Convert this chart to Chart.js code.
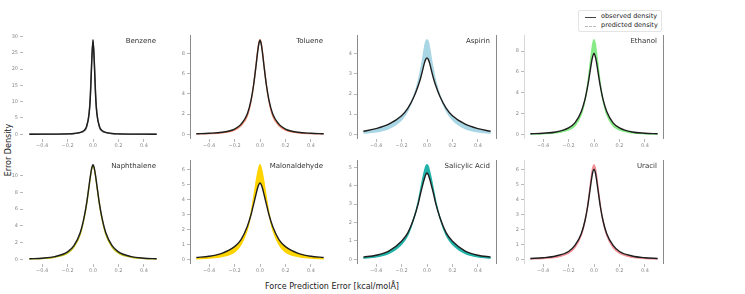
<!DOCTYPE html>
<html>
<head>
<meta charset="utf-8">
<script src="https://cdn.jsdelivr.net/npm/chart.js@4.4.1/dist/chart.umd.min.js"></script>
<style>
  body { margin: 0; background: #fff; font-family: "DejaVu Sans", sans-serif; }
  #wrap { position: relative; width: 745px; height: 294px; overflow: hidden; }
  canvas { position: absolute; }
  .ptitle { position: absolute; font-size: 7px; color: #333; white-space: nowrap; transform: translate(-100%, -50%); }
  .legend { position: absolute; left: 578px; top: 10px; width: 84px; height: 22px; border: 1px solid #e4e4e4; border-radius: 2px; background: #fff; box-sizing: border-box; font-size: 6.5px; color: #222; }
  .legend div { position: absolute; left: 22px; white-space: nowrap; }
  .legend span { position: absolute; left: 6px; width: 11px; }
</style>
</head>
<body>
<div id="wrap">
  <div class="legend">
    <span style="top:6px;border-top:1px solid #444"></span><div style="top:1px">observed density</div>
    <span style="top:15px;border-top:1px dashed #bbb"></span><div style="top:10px">predicted density</div>
  </div>
  <div style="position:absolute;left:8px;top:150px;transform:translate(-50%,-50%) rotate(-90deg);font-size:8px;color:#222;white-space:nowrap">Error Density</div>
  <div style="position:absolute;left:332px;top:286px;transform:translate(-50%,-50%);font-size:8px;color:#222;white-space:nowrap">Force Prediction Error [kcal/molÅ]</div>
</div>
<script>
// x grid of the density curves
const xs = [-0.5, -0.4, -0.3, -0.2, -0.15, -0.1, -0.07, -0.05, -0.03, -0.02, -0.01, 0, 0.01, 0.02, 0.03, 0.05, 0.07, 0.1, 0.15, 0.2, 0.3, 0.4, 0.5];
const xTicks = [-0.4, -0.2, 0.0, 0.2, 0.4];

const molecules = ["Benzene", "Toluene", "Aspirin", "Ethanol", "Naphthalene", "Malonaldehyde", "Salicylic Acid", "Uracil"];

const benzeneObs = [0.02, 0.03, 0.05, 0.12, 0.25, 0.6, 1.2, 2.5, 6.5, 12, 22, 29, 22, 12, 6.5, 2.5, 1.2, 0.6, 0.25, 0.12, 0.05, 0.03, 0.02];
const benzenePred = [0.01, 0.02, 0.04, 0.1, 0.2, 0.5, 1.0, 2.2, 6.8, 13, 23, 28.6, 23, 13, 6.8, 2.2, 1.0, 0.5, 0.2, 0.1, 0.04, 0.02, 0.01];
const tolueneObs = [0.05, 0.1, 0.2, 0.52, 0.98, 2.0, 3.4, 4.9, 6.9, 8.0, 8.9, 9.3, 8.9, 8.0, 6.9, 4.9, 3.4, 2.0, 0.98, 0.52, 0.2, 0.1, 0.05];
const toluenePred = [0.03, 0.06, 0.14, 0.42, 0.85, 1.8, 3.3, 4.9, 7.0, 8.1, 9.0, 9.35, 9.0, 8.1, 7.0, 4.9, 3.3, 1.8, 0.85, 0.42, 0.14, 0.06, 0.03];
const aspirinObs = [0.15, 0.28, 0.5, 0.92, 1.3, 1.9, 2.4, 2.8, 3.3, 3.55, 3.72, 3.8, 3.72, 3.55, 3.3, 2.8, 2.4, 1.9, 1.3, 0.92, 0.5, 0.28, 0.15];
const aspirinPred = [0.06, 0.12, 0.28, 0.72, 1.18, 1.95, 2.6, 3.2, 3.9, 4.3, 4.6, 4.7, 4.6, 4.3, 3.9, 3.2, 2.6, 1.95, 1.18, 0.72, 0.28, 0.12, 0.06];
const ethanolObs = [0.05, 0.1, 0.22, 0.62, 1.1, 2.2, 3.4, 4.6, 6.1, 6.9, 7.5, 7.8, 7.5, 6.9, 6.1, 4.6, 3.4, 2.2, 1.1, 0.62, 0.22, 0.1, 0.05];
const ethanolPred = [0.02, 0.05, 0.13, 0.42, 0.82, 1.9, 3.3, 4.8, 6.8, 7.8, 8.7, 9.1, 8.7, 7.8, 6.8, 4.8, 3.3, 1.9, 0.82, 0.42, 0.13, 0.05, 0.02];
const naphthaleneObs = [0.06, 0.13, 0.32, 0.88, 1.62, 3.2, 5.0, 6.7, 8.9, 10.0, 10.9, 11.3, 10.9, 10.0, 8.9, 6.7, 5.0, 3.2, 1.62, 0.88, 0.32, 0.13, 0.06];
const naphthalenePred = [0.04, 0.09, 0.24, 0.74, 1.45, 3.0, 4.9, 6.6, 8.8, 9.9, 10.8, 11.1, 10.8, 9.9, 8.8, 6.6, 4.9, 3.0, 1.45, 0.74, 0.24, 0.09, 0.04];
const malonaldehydeObs = [0.12, 0.2, 0.4, 0.85, 1.3, 2.2, 3.0, 3.7, 4.4, 4.75, 5.0, 5.12, 5.0, 4.75, 4.4, 3.7, 3.0, 2.2, 1.3, 0.85, 0.4, 0.2, 0.12];
const malonaldehydePred = [0.04, 0.08, 0.18, 0.5, 0.98, 2.0, 3.1, 4.1, 5.2, 5.7, 6.1, 6.34, 6.1, 5.7, 5.2, 4.1, 3.1, 2.0, 0.98, 0.5, 0.18, 0.08, 0.04];
const salicylicObs = [0.12, 0.22, 0.45, 0.98, 1.45, 2.3, 3.0, 3.6, 4.15, 4.4, 4.6, 4.7, 4.6, 4.4, 4.15, 3.6, 3.0, 2.3, 1.45, 0.98, 0.45, 0.22, 0.12];
const salicylicPred = [0.06, 0.13, 0.32, 0.82, 1.33, 2.3, 3.1, 3.8, 4.5, 4.8, 5.05, 5.15, 5.05, 4.8, 4.5, 3.8, 3.1, 2.3, 1.33, 0.82, 0.32, 0.13, 0.06];
const uracilObs = [0.05, 0.1, 0.22, 0.52, 0.92, 1.7, 2.6, 3.5, 4.7, 5.3, 5.8, 6.0, 5.8, 5.3, 4.7, 3.5, 2.6, 1.7, 0.92, 0.52, 0.22, 0.1, 0.05];
const uracilPred = [0.02, 0.05, 0.13, 0.4, 0.78, 1.6, 2.6, 3.6, 4.9, 5.6, 6.1, 6.3, 6.1, 5.6, 4.9, 3.6, 2.6, 1.6, 0.78, 0.4, 0.13, 0.05, 0.02];

const yTicks = [
    [0, 5, 10, 15, 20, 25, 30],
    [0, 2, 4, 6, 8],
    [0, 1, 2, 3, 4],
    [0, 2, 4, 6, 8],
    [0, 2, 4, 6, 8, 10],
    [0, 1, 2, 3, 4, 5, 6],
    [0, 1, 2, 3, 4, 5],
    [0, 1, 2, 3, 4, 5, 6]
];

const observed = [benzeneObs, tolueneObs, aspirinObs, ethanolObs, naphthaleneObs, malonaldehydeObs, salicylicObs, uracilObs];
const predicted = [benzenePred, toluenePred, aspirinPred, ethanolPred, naphthalenePred, malonaldehydePred, salicylicPred, uracilPred];

// styling per panel
const fillColors = ["#6a6a6a", "#f08a68", "#a9d6e5", "#86ea86", "#c4c41c", "#ffd400", "#22b2a8", "#f29098"];
const colLeft = [23, 190, 357, 524];
const rowTop = [35, 160];
const plotW = 140, plotH = 104, yAxisW = 22, xAxisH = 14, padTop = 6, padRight = 6;
const spines = [
    { left: false, right: false },
    { left: true, right: false },
    { left: true, right: true },
    { left: true, right: true, faint: true }
];

const spinePlugin = {
    id: 'spines',
    afterDraw(chart, args, opts) {
        const { ctx, chartArea } = chart;
        ctx.save();
        ctx.lineWidth = 1;
        if (opts.left) {
            ctx.strokeStyle = opts.faint ? '#d8d8d8' : '#8a8a8a';
            ctx.beginPath();
            ctx.moveTo(Math.round(chartArea.left) + 0.5, chartArea.top);
            ctx.lineTo(Math.round(chartArea.left) + 0.5, chartArea.bottom);
            ctx.stroke();
        }
        if (opts.right) {
            ctx.strokeStyle = '#8a8a8a';
            ctx.beginPath();
            ctx.moveTo(Math.round(chartArea.right) - 0.5, chartArea.top);
            ctx.lineTo(Math.round(chartArea.right) - 0.5, chartArea.bottom);
            ctx.stroke();
        }
        ctx.restore();
    }
};

const wrap = document.getElementById('wrap');

molecules.forEach((name, i) => {
    const col = i % 4, row = Math.floor(i / 4);
    const L = colLeft[col], T = rowTop[row];

    const canvas = document.createElement('canvas');
    canvas.width = yAxisW + plotW + padRight;
    canvas.height = padTop + plotH + xAxisH;
    canvas.style.left = (L - yAxisW) + 'px';
    canvas.style.top = (T - padTop) + 'px';
    wrap.appendChild(canvas);

    const title = document.createElement('div');
    title.className = 'ptitle';
    title.textContent = name;
    title.style.left = (L + plotW - 7) + 'px';
    title.style.top = (T + 6) + 'px';
    wrap.appendChild(title);

    const obs = observed[i], pred = predicted[i];
    const peak = Math.max(...obs, ...pred);

    new Chart(canvas.getContext('2d'), {
        type: 'line',
        data: {
            datasets: [{
                data: xs.map((x, k) => ({ x: x, y: obs[k] })),
                borderColor: '#1e1e1e',
                borderWidth: 1.4,
                pointRadius: 0,
                cubicInterpolationMode: 'monotone',
                fill: false
            }, {
                data: xs.map((x, k) => ({ x: x, y: pred[k] })),
                borderColor: fillColors[i],
                backgroundColor: fillColors[i],
                borderWidth: 1.4,
                pointRadius: 0,
                cubicInterpolationMode: 'monotone',
                fill: '-1'
            }]
        },
        options: {
            responsive: false,
            animation: false,
            events: [],
            layout: { padding: { left: 0, top: padTop, right: padRight, bottom: 0 } },
            plugins: {
                legend: { display: false },
                tooltip: { enabled: false },
                spines: spines[col]
            },
            scales: {
                x: {
                    type: 'linear',
                    min: -0.55,
                    max: 0.55,
                    afterBuildTicks: (axis) => { axis.ticks = xTicks.map(v => ({ value: v })); },
                    afterFit: (axis) => { axis.height = xAxisH; },
                    grid: { display: true, drawOnChartArea: false, drawTicks: true, tickLength: 3, color: '#b8b8b8' },
                    border: { display: false },
                    ticks: {
                        font: { size: 5, family: 'DejaVu Sans' },
                        color: '#888',
                        padding: 1,
                        maxRotation: 0,
                        callback: (v) => v.toFixed(1).replace('-', '\u2212')
                    }
                },
                y: {
                    type: 'linear',
                    min: -0.05 * peak,
                    max: 1.05 * peak,
                    afterBuildTicks: (axis) => { axis.ticks = yTicks[i].map(v => ({ value: v })); },
                    afterFit: (axis) => { axis.width = yAxisW; },
                    grid: { display: true, drawOnChartArea: false, drawTicks: true, tickLength: 3, color: '#b8b8b8' },
                    border: { display: false },
                    ticks: {
                        font: { size: 5, family: 'DejaVu Sans' },
                        color: '#888',
                        padding: 2,
                        callback: (v) => String(v)
                    }
                }
            }
        },
        plugins: [spinePlugin]
    });
});
</script>
</body>
</html>
